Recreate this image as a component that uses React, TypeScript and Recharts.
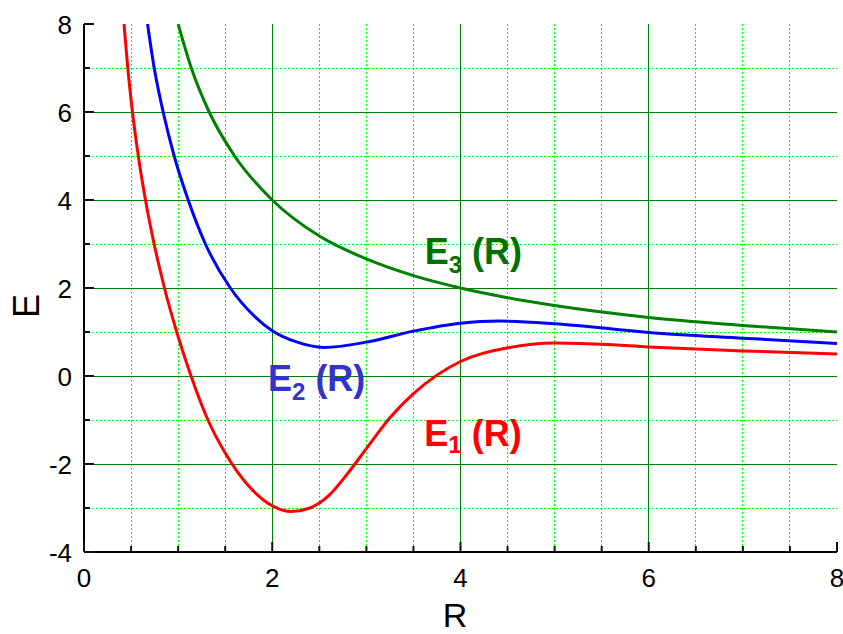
import React from 'react';
import {
  LineChart,
  Line,
  XAxis,
  YAxis,
  CartesianGrid,
  ReferenceDot,
} from 'recharts';

// potential energy curves
const e1 = [
  { R: 0.425, E: 8 },
  { R: 0.465, E: 7 },
  { R: 0.515, E: 6 },
  { R: 0.577, E: 5 },
  { R: 0.653, E: 4 },
  { R: 0.745, E: 3 },
  { R: 0.855, E: 2 },
  { R: 0.985, E: 1 },
  { R: 1.137, E: 0 },
  { R: 1.317, E: -1 },
  { R: 1.5, E: -1.75 },
  { R: 1.75, E: -2.5 },
  { R: 2.0, E: -2.95 },
  { R: 2.2, E: -3.08 },
  { R: 2.4, E: -3.0 },
  { R: 2.6, E: -2.72 },
  { R: 2.8, E: -2.22 },
  { R: 3.0, E: -1.65 },
  { R: 3.25, E: -0.95 },
  { R: 3.5, E: -0.4 },
  { R: 3.75, E: 0.02 },
  { R: 4.0, E: 0.33 },
  { R: 4.5, E: 0.64 },
  { R: 5.0, E: 0.75 },
  { R: 5.5, E: 0.72 },
  { R: 6.0, E: 0.66 },
  { R: 7.0, E: 0.57 },
  { R: 8.0, E: 0.5 },
];

const e2 = [
  { R: 0.675, E: 8 },
  { R: 0.746, E: 7 },
  { R: 0.841, E: 6 },
  { R: 0.958, E: 5 },
  { R: 1.107, E: 4 },
  { R: 1.29, E: 3 },
  { R: 1.555, E: 2 },
  { R: 1.8, E: 1.38 },
  { R: 2.0, E: 1.03 },
  { R: 2.25, E: 0.78 },
  { R: 2.55, E: 0.65 },
  { R: 3.0, E: 0.77 },
  { R: 3.5, E: 1.02 },
  { R: 4.0, E: 1.2 },
  { R: 4.4, E: 1.25 },
  { R: 5.0, E: 1.19 },
  { R: 6.0, E: 0.99 },
  { R: 7.0, E: 0.86 },
  { R: 8.0, E: 0.74 },
];

const e3 = [
  { R: 1.0, E: 8 },
  { R: 1.14, E: 7 },
  { R: 1.33, E: 6 },
  { R: 1.6, E: 5 },
  { R: 2.0, E: 4 },
  { R: 2.5, E: 3.18 },
  { R: 3.0, E: 2.66 },
  { R: 3.5, E: 2.28 },
  { R: 4.0, E: 2.0 },
  { R: 4.5, E: 1.78 },
  { R: 5.0, E: 1.6 },
  { R: 6.0, E: 1.33 },
  { R: 7.0, E: 1.15 },
  { R: 8.0, E: 1.0 },
];

const xTicks = [0, 0.5, 1, 1.5, 2, 2.5, 3, 3.5, 4, 4.5, 5, 5.5, 6, 6.5, 7, 7.5, 8];
const yTicks = [-4, -3, -2, -1, 0, 1, 2, 3, 4, 5, 6, 7, 8];
const xMajorGrid = [2, 4, 6];
const xMinorGrid = [0.5, 1, 1.5, 2.5, 3, 3.5, 4.5, 5, 5.5, 6.5, 7, 7.5];
const yMajorGrid = [-2, 0, 2, 4, 6];
const yMinorGrid = [-3, -1, 1, 3, 5, 7];

const FONT = '"Liberation Sans", Arial, sans-serif';
const MAJOR = 10;
const MINOR = 6;

const isMajor = (v: number) => v % 2 === 0;

const BottomTick = (props: any) => {
  const { x, y, payload } = props;
  const v = payload.value;
  return (
    <g>
      <line x1={x} y1={y} x2={x} y2={y - (isMajor(v) ? MAJOR : MINOR)} stroke="#111" strokeWidth={2} />
      {isMajor(v) && (
        <text x={x} y={y + 35} textAnchor="middle" fontSize={26} fontFamily={FONT} fill="#000">
          {v}
        </text>
      )}
    </g>
  );
};

const TopTick = (props: any) => {
  const { x, y, payload } = props;
  return (
    <line x1={x} y1={y} x2={x} y2={y + (isMajor(payload.value) ? MAJOR : MINOR)} stroke="#111" strokeWidth={2} />
  );
};

const LeftTick = (props: any) => {
  const { x, y, payload } = props;
  const v = payload.value;
  return (
    <g>
      <line x1={x} y1={y} x2={x + (isMajor(v) ? MAJOR : MINOR)} y2={y} stroke="#111" strokeWidth={2} />
      {isMajor(v) && (
        <text x={x - 12} y={y + 9.5} textAnchor="end" fontSize={26} fontFamily={FONT} fill="#000">
          {v}
        </text>
      )}
    </g>
  );
};

const RightTick = (props: any) => {
  const { x, y, payload } = props;
  return (
    <line x1={x} y1={y} x2={x - (isMajor(payload.value) ? MAJOR : MINOR)} y2={y} stroke="#111" strokeWidth={2} />
  );
};

// "E_n (R)" tag, anchored at the baseline start of the E
const CurveTag = ({ viewBox, sub, color, subDy }: any) => {
  const { x, y } = viewBox;
  return (
    <text x={x} y={y} fontSize={36} fontWeight="bold" fontFamily={FONT} fill={color}>
      <tspan>E</tspan>
      <tspan fontSize={24} dy={subDy}>{sub}</tspan>
      <tspan dy={-subDy}> (R)</tspan>
    </text>
  );
};

const frame = { stroke: '#000', strokeWidth: 2 };

export default function App() {
  return (
    <div style={{ position: 'absolute', left: 0, top: 0, background: '#fff' }}>
      <LineChart width={843} height={634} margin={{ top: 24, right: 6, left: 0, bottom: 0 }}>
        <CartesianGrid
          verticalValues={xMinorGrid}
          horizontalValues={yMinorGrid}
          stroke="#00ff00"
          strokeDasharray="2 2"
          strokeWidth={1}
          shapeRendering="crispEdges"
        />
        <CartesianGrid
          verticalValues={xMajorGrid}
          horizontalValues={yMajorGrid}
          stroke="#008000"
          strokeWidth={1}
          shapeRendering="crispEdges"
        />
        <XAxis
          dataKey="R"
          type="number"
          domain={[0, 8]}
          ticks={xTicks}
          interval={0}
          allowDataOverflow
          height={82}
          axisLine={frame}
          tickLine={false}
          tickSize={0}
          tickMargin={0}
          tick={<BottomTick />}
        />
        <XAxis
          xAxisId="top"
          orientation="top"
          type="number"
          domain={[0, 8]}
          ticks={xTicks}
          interval={0}
          height={0}
          axisLine={frame}
          tickLine={false}
          tickSize={0}
          tickMargin={0}
          tick={<TopTick />}
        />
        <YAxis
          type="number"
          domain={[-4, 8]}
          ticks={yTicks}
          interval={0}
          allowDataOverflow
          width={84}
          axisLine={frame}
          tickLine={false}
          tickSize={0}
          tickMargin={0}
          tick={<LeftTick />}
        />
        <YAxis
          yAxisId="right"
          orientation="right"
          type="number"
          domain={[-4, 8]}
          ticks={yTicks}
          interval={0}
          width={0}
          axisLine={frame}
          tickLine={false}
          tickSize={0}
          tickMargin={0}
          tick={<RightTick />}
        />
        <Line data={e3} dataKey="E" type="monotone" stroke="#008000" strokeWidth={3} dot={false} isAnimationActive={false} />
        <Line data={e2} dataKey="E" type="monotone" stroke="#0000ff" strokeWidth={3} dot={false} isAnimationActive={false} />
        <Line data={e1} dataKey="E" type="monotone" stroke="#ff0000" strokeWidth={3} dot={false} isAnimationActive={false} />
        <ReferenceDot
          x={3.62}
          y={2.55}
          r={0}
          fill="none"
          stroke="none"
          label={(p: any) => <CurveTag viewBox={p.viewBox} sub="3" color="#007000" subDy={9} />}
        />
        <ReferenceDot
          x={1.955}
          y={-0.345}
          r={0}
          fill="none"
          stroke="none"
          label={(p: any) => <CurveTag viewBox={p.viewBox} sub="2" color="#3333cc" subDy={9} />}
        />
        <ReferenceDot
          x={3.616}
          y={-1.595}
          r={0}
          fill="none"
          stroke="none"
          label={(p: any) => <CurveTag viewBox={p.viewBox} sub="1" color="#ff0000" subDy={7} />}
        />
      </LineChart>
      <svg width={843} height={634} style={{ position: 'absolute', left: 0, top: 0, pointerEvents: 'none' }}>
        <text x={39} y={306} transform="rotate(-90 39 306)" textAnchor="middle" fontSize={36} fontFamily={FONT} fill="#000">
          E
        </text>
        <text x={455} y={627} textAnchor="middle" fontSize={34} fontFamily={FONT} fill="#000">
          R
        </text>
      </svg>
    </div>
  );
}
